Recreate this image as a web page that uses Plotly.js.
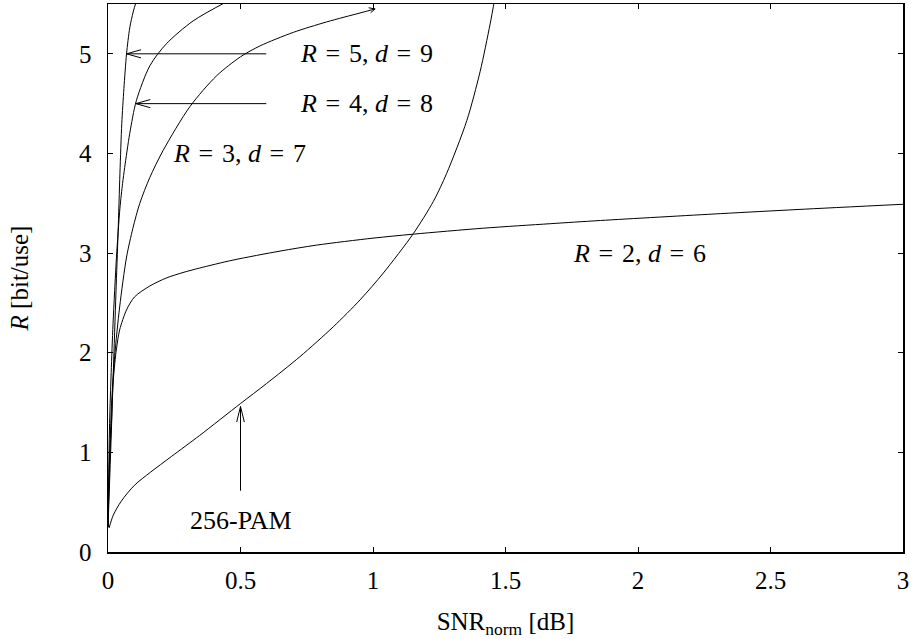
<!DOCTYPE html>
<html>
<head>
<meta charset="utf-8">
<script src="https://cdn.plot.ly/plotly-3.0.1.min.js"></script>
<style>html,body{margin:0;padding:0;background:#fff;}#chart{width:917px;height:639px;}</style>
</head>
<body>
<div id="chart"></div>
<script>
// ---- data ----
const snrR2 = [0, 0.006, 0.013, 0.019, 0.03, 0.044, 0.07, 0.1, 0.158, 0.22, 0.283, 0.346, 0.472, 0.649, 0.787, 1.0, 1.152, 1.417, 1.669, 1.858, 2.312, 2.6, 3.0];
const rateR2 = [0.25, 0.96, 1.29, 1.69, 2.0, 2.23, 2.43, 2.56, 2.67, 2.75, 2.805, 2.85, 2.93, 3.02, 3.08, 3.15, 3.19, 3.25, 3.295, 3.327, 3.396, 3.437, 3.49];

const snrR3 = [0, 0.006, 0.013, 0.025, 0.044, 0.07, 0.094, 0.12, 0.158, 0.208, 0.309, 0.41, 0.5, 0.574, 0.699, 0.825, 0.951, 1.008];
const rateR3 = [0.25, 0.9, 1.46, 1.96, 2.46, 2.96, 3.25, 3.5, 3.76, 4.03, 4.47, 4.78, 4.97, 5.08, 5.215, 5.32, 5.41, 5.45];

const snrR4 = [0, 0.006, 0.012, 0.019, 0.032, 0.045, 0.055, 0.063, 0.082, 0.107, 0.158, 0.22, 0.321, 0.453];
const rateR4 = [0.25, 1.29, 1.8, 2.29, 2.96, 3.45, 3.7, 3.86, 4.2, 4.53, 4.88, 5.1, 5.33, 5.53];

const snrR5 = [0, 0.01, 0.02, 0.03, 0.038, 0.045, 0.052, 0.06, 0.07, 0.082, 0.095, 0.107];
const rateR5 = [0.25, 1.0, 1.8, 2.6, 3.2, 3.8, 4.3, 4.65, 5.0, 5.26, 5.42, 5.53];

const snrPAM = [0.004, 0.02, 0.05, 0.1, 0.16, 0.24, 0.346, 0.5, 0.598, 0.724, 0.85, 0.951, 1.039, 1.152, 1.228, 1.278, 1.354, 1.404, 1.442, 1.46];
const ratePAM = [0.24, 0.37, 0.51, 0.67, 0.8, 0.96, 1.17, 1.49, 1.69, 1.96, 2.26, 2.53, 2.8, 3.195, 3.52, 3.8, 4.33, 4.82, 5.3, 5.56];

const xTicks = [0, 0.5, 1, 1.5, 2, 2.5, 3];
const yTicks = [0, 1, 2, 3, 4, 5];

const labelTexts = ['<i>R</i>\u2004=\u20045, <i>d</i>\u2004=\u20049', '<i>R</i>\u2004=\u20044, <i>d</i>\u2004=\u20048',
                    '<i>R</i>\u2004=\u20043, <i>d</i>\u2004=\u20047', '<i>R</i>\u2004=\u20042, <i>d</i>\u2004=\u20046', '256-PAM'];
const labelX = [0.976, 0.976, 0.495, 2.006, 0.5];
const labelY = [5.0, 4.5, 4.0, 3.0, 0.315];

// arrows: tip (x,y) and tail (x,y) in data units
const arrowTipX = [0.07, 0.105, 0.5];
const arrowTipY = [5.0, 4.5, 1.46];
const arrowTailX = [0.603, 0.603, 0.5];
const arrowTailY = [5.0, 4.5, 0.60];

const FONT = 'Liberation Serif';
const FS = 25;

const lineStyle = {color: '#000', width: 1, shape: 'spline', smoothing: 0.8};
const traces = [
  {x: snrR2, y: rateR2}, {x: snrR3, y: rateR3}, {x: snrR4, y: rateR4},
  {x: snrR5, y: rateR5}, {x: snrPAM, y: ratePAM}
].map(t => Object.assign({type: 'scatter', mode: 'lines', line: lineStyle, hoverinfo: 'none'}, t));

const annotations = [];
labelTexts.forEach((t, i) => annotations.push({
  x: labelX[i], y: labelY[i], xref: 'x', yref: 'y', text: t, showarrow: false,
  xanchor: 'center', yanchor: 'middle', font: {family: FONT, size: 26, color: '#000'}
}));
function seg(x, y, ax, ay, pix) {
  return {x: x, y: y, xref: 'x', yref: 'y', ax: ax, ay: ay,
    axref: pix ? 'pixel' : 'x', ayref: pix ? 'pixel' : 'y',
    text: '', showarrow: true, arrowhead: 0, arrowwidth: 1, arrowcolor: '#000', standoff: 0, startstandoff: 0};
}
const armDX = [[16, 16], [16, 16], [-4.2, 4.2]];
const armDY = [[-4.5, 4.5], [-4.5, 4.5], [17, 17]];
arrowTipX.forEach((tx, i) => {
  annotations.push(seg(tx, arrowTipY[i], arrowTailX[i], arrowTailY[i], false));
  annotations.push(seg(tx, arrowTipY[i], armDX[i][0], armDY[i][0], true));
  annotations.push(seg(tx, arrowTipY[i], armDX[i][1], armDY[i][1], true));
});
// arrowhead at the end of the R=3 curve
const endX = snrR3[snrR3.length - 1], endY = rateR3[rateR3.length - 1];
annotations.push(seg(endX, endY, -8, -1.5, true));
annotations.push(seg(endX, endY, -6, 5, true));

const axisCommon = {
  showgrid: false, zeroline: false, showline: true, linecolor: '#000', linewidth: 1.5,
  mirror: 'ticks', ticks: 'inside', ticklen: 5, tickwidth: 1, tickcolor: '#000',
  tickfont: {family: FONT, size: FS, color: '#000'}, fixedrange: true
};

const layout = {
  width: 917, height: 639,
  margin: {l: 108, r: 14, t: 4, b: 87, pad: 0},
  paper_bgcolor: '#fff', plot_bgcolor: '#fff',
  showlegend: false,
  font: {family: FONT, size: FS, color: '#000'},
  xaxis: Object.assign({}, axisCommon, {
    range: [0, 3], tickvals: xTicks, ticktext: xTicks.map(String), ticklabelstandoff: 5,
    title: {text: 'SNR<sub>norm</sub> [dB]', font: {family: FONT, size: FS, color: '#000'}, standoff: 21}
  }),
  yaxis: Object.assign({}, axisCommon, {
    range: [0, 5.5], tickvals: yTicks, ticktext: yTicks.map(String), ticklabelstandoff: 10,
    title: {text: '<i>R</i> [bit/use]', font: {family: FONT, size: FS, color: '#000'}, standoff: 43}
  }),
  annotations: annotations
};

Plotly.newPlot('chart', traces, layout, {staticPlot: true, displayModeBar: false});
</script>
</body>
</html>
